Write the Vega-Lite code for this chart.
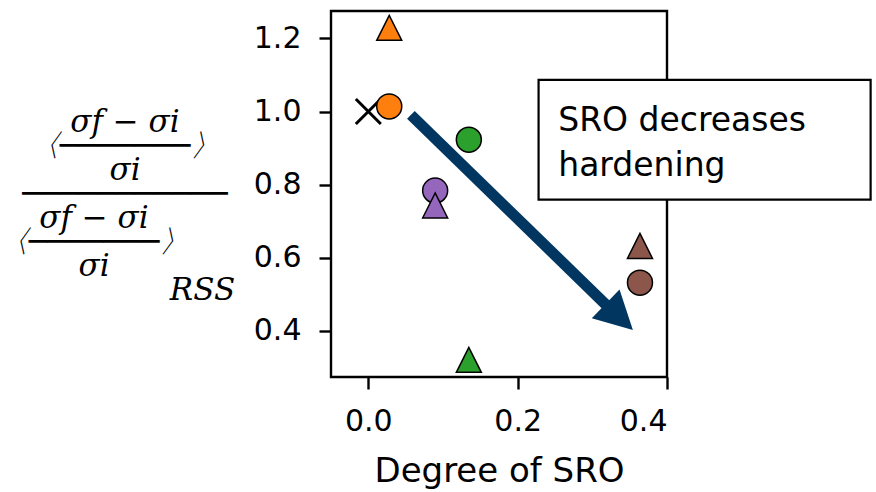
{
  "$schema": "https://vega.github.io/schema/vega-lite/v6.json",
  "width": 336,
  "height": 366,
  "autosize": {"type": "none"},
  "padding": {"left": 331, "top": 11, "right": 209, "bottom": 115},
  "background": "white",
  "config": {
    "view": {"stroke": "black", "strokeWidth": 2.4},
    "axis": {
      "domain": false,
      "grid": false,
      "ticks": true,
      "tickColor": "black",
      "tickSize": 12,
      "tickWidth": 2.4,
      "labelFont": "DejaVu Sans",
      "labelFontSize": 30,
      "labelColor": "black",
      "titleColor": "black"
    }
  },
  "datasets": {
    "alloys": [
      {"alloy": "A", "kind": "circle", "sro": 0.028, "ratio": 1.014},
      {"alloy": "B", "kind": "circle", "sro": 0.1346, "ratio": 0.923},
      {"alloy": "C", "kind": "circle", "sro": 0.0895, "ratio": 0.784},
      {"alloy": "D", "kind": "circle", "sro": 0.3638, "ratio": 0.532},
      {"alloy": "A", "kind": "triangle", "sro": 0.028, "ratio": 1.229},
      {"alloy": "B", "kind": "triangle", "sro": 0.1346, "ratio": 0.321},
      {"alloy": "C", "kind": "triangle", "sro": 0.0895, "ratio": 0.743},
      {"alloy": "D", "kind": "triangle", "sro": 0.3638, "ratio": 0.6325}
    ],
    "reference": [
      {"alloy": "RSS", "sro": 0.0, "ratio": 1.0}
    ],
    "note": [
      {"line1": "SRO decreases", "line2": "hardening"}
    ]
  },
  "layer": [
    {
      "data": {"name": "reference"},
      "mark": {"type": "point", "shape": "M-1,-1L1,1M-1,1L1,-1", "filled": false, "stroke": "black", "strokeWidth": 3, "size": 625, "opacity": 1},
      "encoding": {
        "x": {
          "field": "sro",
          "type": "quantitative",
          "scale": {"domain": [-0.05, 0.4], "nice": false, "zero": false},
          "axis": {
            "values": [0.0, 0.2, 0.4],
            "format": ".1f",
            "labelBaseline": "alphabetic",
            "labelPadding": 41,
            "title": "Degree of SRO",
            "titleFont": "DejaVu Sans",
            "titleFontSize": 34,
            "titleFontWeight": "normal",
            "titleBaseline": "alphabetic",
            "titleY": 104
          }
        },
        "y": {
          "field": "ratio",
          "type": "quantitative",
          "scale": {"domain": [0.274, 1.275], "nice": false, "zero": false},
          "axis": {
            "values": [0.4, 0.6, 0.8, 1.0, 1.2],
            "format": ".1f",
            "labelPadding": 18,
            "title": [
              "σf − σi",
              "〈───────〉",
              "σi",
              "───────────",
              "σf − σi\u2003\u2003\u200B",
              "〈───────〉\u2003\u2003\u200B",
              "σi\u2003\u2003\u200B",
              "\u200B\u2003\u2003\u2003\u2003\u2003RSS"
            ],
            "titleFont": "DejaVu Serif",
            "titleFontStyle": "italic",
            "titleFontWeight": "normal",
            "titleFontSize": 31,
            "titleLineHeight": 24,
            "titleAngle": 0,
            "titleAlign": "center",
            "titleBaseline": "middle",
            "titleX": -206.5,
            "titleY": 111
          }
        }
      }
    },
    {
      "data": {"name": "alloys"},
      "mark": {"type": "point", "filled": true, "opacity": 1, "stroke": "black", "strokeWidth": 1.5, "size": 625},
      "encoding": {
        "x": {"field": "sro", "type": "quantitative"},
        "y": {"field": "ratio", "type": "quantitative"},
        "color": {
          "field": "alloy",
          "type": "nominal",
          "scale": {"domain": ["A", "B", "C", "D"], "range": ["#ff7f0e", "#2ca02c", "#9467bd", "#8c564b"]},
          "legend": null
        },
        "shape": {
          "field": "kind",
          "type": "nominal",
          "scale": {"domain": ["circle", "triangle"], "range": ["circle", "M0,-1L-1,1L1,1Z"]},
          "legend": null
        }
      }
    },
    {
      "data": {"name": "note"},
      "mark": {"type": "rule", "color": "#003660", "strokeWidth": 11, "strokeCap": "butt"},
      "encoding": {
        "x": {"datum": 0.057},
        "y": {"datum": 0.991},
        "x2": {"datum": 0.3241},
        "y2": {"datum": 0.4601}
      }
    },
    {
      "data": {"name": "note"},
      "mark": {"type": "point", "shape": "M1.26,0L-0.63,-1L-0.63,1Z", "filled": true, "color": "#003660", "opacity": 1, "size": 1600, "angle": 43.9, "strokeWidth": 0},
      "encoding": {
        "x": {"datum": 0.33},
        "y": {"datum": 0.4503}
      }
    },
    {
      "data": {"name": "note"},
      "mark": {"type": "rect", "fill": "white", "stroke": "black", "strokeWidth": 2.2, "clip": false},
      "encoding": {
        "x": {"datum": 0.228},
        "x2": {"datum": 0.6727},
        "y": {"datum": 1.0866},
        "y2": {"datum": 0.759}
      }
    },
    {
      "data": {"name": "note"},
      "mark": {"type": "text", "font": "DejaVu Sans", "fontSize": 33, "align": "left", "baseline": "alphabetic", "color": "black"},
      "encoding": {
        "x": {"datum": 0.2543},
        "y": {"datum": 0.9473},
        "text": {"field": "line1"}
      }
    },
    {
      "data": {"name": "note"},
      "mark": {"type": "text", "font": "DejaVu Sans", "fontSize": 33, "align": "left", "baseline": "alphabetic", "color": "black"},
      "encoding": {
        "x": {"datum": 0.2543},
        "y": {"datum": 0.8246},
        "text": {"field": "line2"}
      }
    }
  ]
}
